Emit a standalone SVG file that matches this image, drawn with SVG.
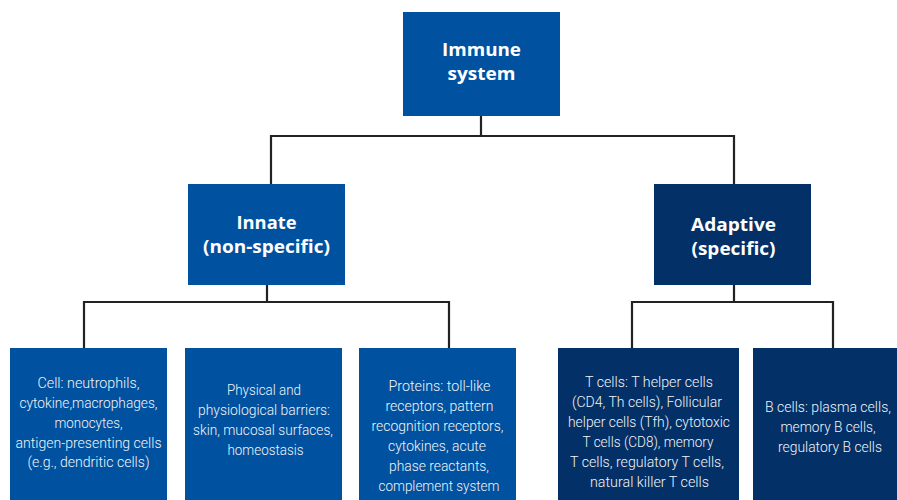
<svg xmlns="http://www.w3.org/2000/svg" width="897" height="500" viewBox="0 0 897 500">
<style>
.blue{fill:#00519F}
.dark{fill:#033066}
.hd{font-family:"Open Sans","Liberation Sans",sans-serif;font-weight:bold;font-size:18.5px;fill:#fff;text-anchor:middle}
.bt{font-family:"Roboto","Liberation Sans",sans-serif;font-weight:300;font-size:15.5px;fill:#F2F4F8;text-anchor:middle}
.ln{stroke:#222;stroke-width:2.2;fill:none}
</style>
<rect width="897" height="500" fill="#fff"/>
<g id="connectors">
<path class="ln" d="M481 116V136M271 184V136H734V184"/>
<path class="ln" d="M267 285V302M84 348V302H449V348"/>
<path class="ln" d="M734 285V302M632 348V302H833V348"/>
</g>
<g id="immune">
<rect class="blue" x="403" y="12" width="157" height="104"/>
<text class="hd" x="481.5" y="56" textLength="79" lengthAdjust="spacingAndGlyphs">Immune</text>
<text class="hd" x="481.5" y="80" textLength="68" lengthAdjust="spacingAndGlyphs">system</text>
</g>
<g id="innate">
<rect class="blue" x="188" y="184" width="157" height="101"/>
<text class="hd" x="266.5" y="229" textLength="60" lengthAdjust="spacingAndGlyphs">Innate</text>
<text class="hd" x="266.5" y="253" textLength="127" lengthAdjust="spacingAndGlyphs">(non-specific)</text>
</g>
<g id="adaptive">
<rect class="dark" x="654" y="184" width="157" height="101"/>
<text class="hd" x="733.5" y="231" textLength="85" lengthAdjust="spacingAndGlyphs">Adaptive</text>
<text class="hd" x="733.5" y="255" textLength="84" lengthAdjust="spacingAndGlyphs">(specific)</text>
</g>
<g id="cell">
<rect class="blue" x="10" y="348" width="157" height="152"/>
<text class="bt" x="88.5" y="388" textLength="102" lengthAdjust="spacingAndGlyphs">Cell: neutrophils,</text>
<text class="bt" x="88.5" y="408" textLength="138" lengthAdjust="spacingAndGlyphs">cytokine,macrophages,</text>
<text class="bt" x="88.5" y="428" textLength="68" lengthAdjust="spacingAndGlyphs">monocytes,</text>
<text class="bt" x="88.5" y="448" textLength="146" lengthAdjust="spacingAndGlyphs">antigen-presenting cells</text>
<text class="bt" x="88.5" y="467" textLength="122" lengthAdjust="spacingAndGlyphs">(e.g., dendritic cells)</text>
</g>
<g id="barriers">
<rect class="blue" x="185" y="348" width="157" height="152"/>
<text class="bt" x="264" y="395" textLength="74" lengthAdjust="spacingAndGlyphs">Physical and</text>
<text class="bt" x="264" y="415" textLength="132" lengthAdjust="spacingAndGlyphs">physiological barriers:</text>
<text class="bt" x="263" y="435" textLength="140" lengthAdjust="spacingAndGlyphs">skin, mucosal surfaces,</text>
<text class="bt" x="265.5" y="455" textLength="76" lengthAdjust="spacingAndGlyphs">homeostasis</text>
</g>
<g id="proteins">
<rect class="blue" x="359" y="348" width="157" height="152"/>
<text class="bt" x="439.5" y="391" textLength="102" lengthAdjust="spacingAndGlyphs">Proteins: toll-like</text>
<text class="bt" x="439.5" y="411" textLength="108" lengthAdjust="spacingAndGlyphs">receptors, pattern</text>
<text class="bt" x="437.5" y="431" textLength="132" lengthAdjust="spacingAndGlyphs">recognition receptors,</text>
<text class="bt" x="437" y="451" textLength="98" lengthAdjust="spacingAndGlyphs">cytokines, acute</text>
<text class="bt" x="439" y="471" textLength="100" lengthAdjust="spacingAndGlyphs">phase reactants,</text>
<text class="bt" x="439" y="491" textLength="121" lengthAdjust="spacingAndGlyphs">complement system</text>
</g>
<g id="tcells">
<rect class="dark" x="558" y="348" width="181" height="152"/>
<text class="bt" x="649" y="387" textLength="128" lengthAdjust="spacingAndGlyphs">T cells: T helper cells</text>
<text class="bt" x="647" y="407" textLength="150" lengthAdjust="spacingAndGlyphs">(CD4, Th cells), Follicular</text>
<text class="bt" x="649" y="427" textLength="162" lengthAdjust="spacingAndGlyphs">helper cells (Tfh), cytotoxic</text>
<text class="bt" x="648" y="447" textLength="131" lengthAdjust="spacingAndGlyphs">T cells (CD8), memory</text>
<text class="bt" x="647" y="467" textLength="154" lengthAdjust="spacingAndGlyphs">T cells, regulatory T cells,</text>
<text class="bt" x="649.5" y="487" textLength="119" lengthAdjust="spacingAndGlyphs">natural killer T cells</text>
</g>
<g id="bcells">
<rect class="dark" x="753" y="348" width="144" height="152"/>
<text class="bt" x="828" y="412" textLength="126" lengthAdjust="spacingAndGlyphs">B cells: plasma cells,</text>
<text class="bt" x="828" y="432" textLength="95" lengthAdjust="spacingAndGlyphs">memory B cells,</text>
<text class="bt" x="830" y="452" textLength="104" lengthAdjust="spacingAndGlyphs">regulatory B cells</text>
</g>
</svg>
